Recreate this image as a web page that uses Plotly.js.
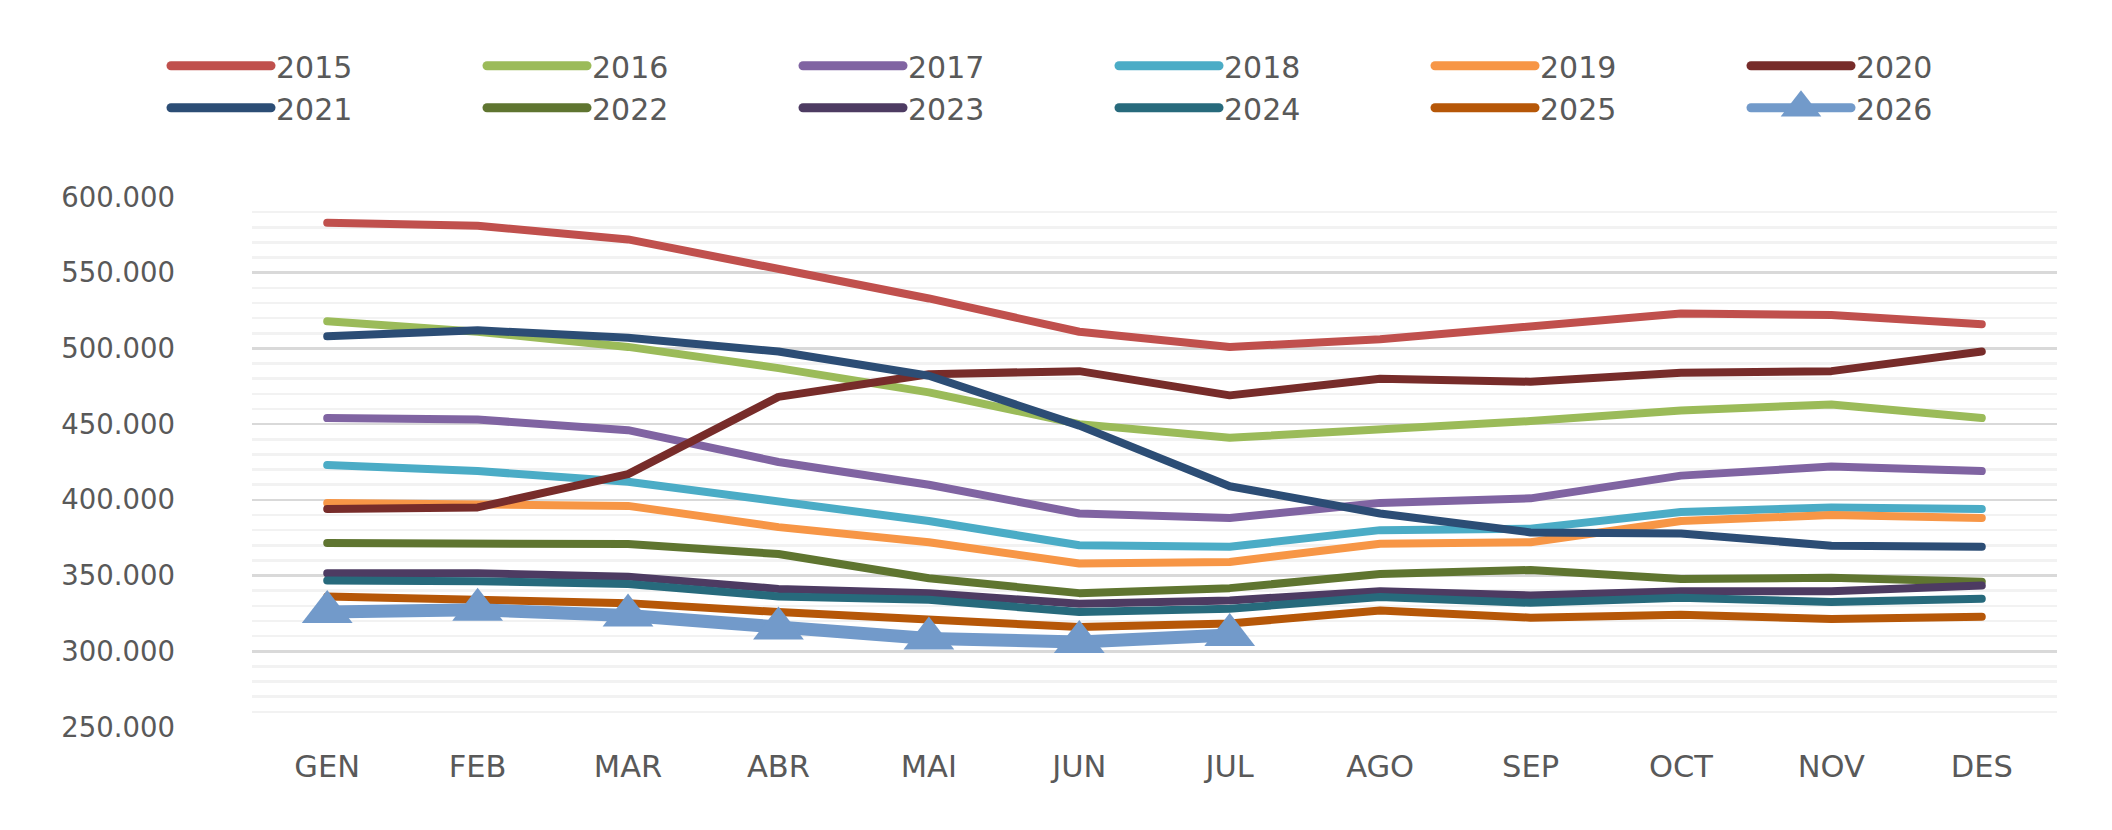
<!DOCTYPE html>
<html>
<head>
<meta charset="utf-8">
<script src="https://cdn.plot.ly/plotly-3.0.1.min.js"></script>
<style>
html,body{margin:0;padding:0;background:#fff;}
#chart{width:2112px;height:830px;}
#chart .legend .legendlines path{stroke-width:9px !important;stroke-linecap:round;}
#chart .scatterlayer .js-line{stroke-linecap:round;stroke-linejoin:round;}
</style>
</head>
<body>
<div id="chart"></div>
<script>
var months = ["GEN","FEB","MAR","ABR","MAI","JUN","JUL","AGO","SEP","OCT","NOV","DES"];
var years = ["2015","2016","2017","2018","2019","2020","2021","2022","2023","2024","2025","2026"];
var colors = ["#C0504D","#9BBB59","#8064A2","#4BACC6","#F79646","#772C2A","#2C4D75","#5F7530","#4D3B62","#276A7C","#B65708","#729ACA"];

var v2015 = [583000,581000,572000,553000,533000,511000,501000,506000,514000,523000,522000,516000];
var v2016 = [518000,511000,501000,487000,471000,450000,441000,446000,452000,459000,463000,454000];
var v2017 = [454000,453000,446000,425000,410000,391000,388000,398000,401000,416000,422000,419000];
var v2018 = [423000,419000,412000,399000,386000,370000,369000,380000,381000,392000,395000,394000];
var v2019 = [398000,397000,396000,382000,372000,358000,359000,371000,372000,386000,390000,388000];
var v2020 = [394000,395000,417000,468000,483000,485000,469000,480000,478000,484000,485000,498000];
var v2021 = [508000,512000,507000,498000,482000,449000,409000,391000,378500,377800,369700,369000];
var v2022 = [371500,370800,370800,364200,348200,338400,341700,351000,353700,347800,348500,346000];
var v2023 = [351500,351500,349300,341200,338400,331400,333600,339700,336900,339700,339700,343400];
var v2024 = [346700,346300,344500,336200,334000,325900,328100,335800,332000,335300,332500,334700];
var v2025 = [336200,334200,331800,325900,320400,316000,318300,327000,322200,324200,321300,322800];
var v2026 = [325900,327400,323700,315000,308400,306200,310800];

var series = [v2015,v2016,v2017,v2018,v2019,v2020,v2021,v2022,v2023,v2024,v2025,v2026];
var yTicks = [250000,300000,350000,400000,450000,500000,550000,600000];

var traces = series.map(function(vals, i){
  var last = (i === series.length - 1);
  var t = {
    type: 'scatter',
    x: months.slice(0, vals.length),
    y: vals,
    name: years[i],
    mode: last ? 'lines+markers' : 'lines',
    line: {color: colors[i], width: last ? 13 : 8, shape: 'linear'},
    hoverinfo: 'x+y+name'
  };
  if (last) {
    t.marker = {symbol: 'triangle-up', size: 44, color: colors[i], line: {width: 0}};
  }
  return t;
});

var layout = {
  width: 2112,
  height: 830,
  paper_bgcolor: '#ffffff',
  plot_bgcolor: '#ffffff',
  separators: ',.',
  margin: {l: 252, r: 55, t: 197, b: 103, pad: 0},
  font: {family: 'DejaVu Sans, Verdana, sans-serif', color: '#595959', size: 28},
  showlegend: true,
  legend: {
    orientation: 'h',
    xref: 'paper', yref: 'paper',
    x: -0.04765, y: 1.2966,
    xanchor: 'left', yanchor: 'top',
    entrywidth: 201, entrywidthmode: 'pixels',
    itemwidth: 100,
    tracegroupgap: 0,
    font: {family: 'DejaVu Sans, Verdana, sans-serif', size: 30, color: '#595959'},
    bgcolor: 'rgba(0,0,0,0)'
  },
  xaxis: {
    type: 'category',
    categoryorder: 'array',
    categoryarray: months,
    range: [-0.5, 11.5],
    showgrid: false,
    zeroline: false,
    showline: false,
    ticks: '',
    tickfont: {family: 'DejaVu Sans, Verdana, sans-serif', size: 30.5, color: '#595959'},
    ticklabelstandoff: 18,
    fixedrange: true
  },
  yaxis: {
    range: [250000, 600000],
    tickvals: yTicks,
    tickformat: ',d',
    showgrid: true,
    gridcolor: '#d9d9d9',
    gridwidth: 2.5,
    zeroline: false,
    showline: false,
    ticks: '',
    ticklabelstandoff: 76,
    tickfont: {family: 'DejaVu Sans, Verdana, sans-serif', size: 27.5, color: '#595959'},
    minor: {dtick: 10000, tick0: 250000, showgrid: true, gridcolor: '#f2f2f2', gridwidth: 2.5},
    fixedrange: true
  }
};

Plotly.newPlot('chart', traces, layout, {displayModeBar: false, staticPlot: true}).then(function(gd){
  var pts = gd.querySelectorAll('.legend .legendpoints path.scatterpts');
  pts.forEach(function(p){
    var tr = p.getAttribute('transform') || '';
    p.setAttribute('transform', tr + ' scale(2.2)');
  });
});
</script>
</body>
</html>
